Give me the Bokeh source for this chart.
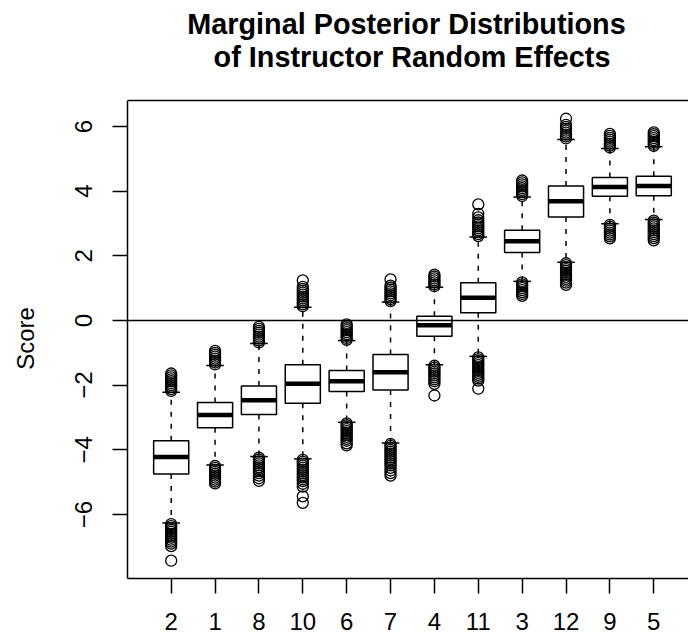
import numpy as np
from bokeh.plotting import figure
from bokeh.layouts import column
from bokeh.models import Range1d, FixedTicker, Span, Label
from bokeh.embed import file_html
from bokeh.resources import INLINE

# ---------------- data ----------------
categories = ["2", "1", "8", "10", "6", "7", "4", "11", "3", "12", "9", "5"]
lower_whisker = [-6.26, -4.47, -4.21, -4.28, -3.15, -3.79, -1.37, -1.11, 1.21, 1.80, 2.99, 3.12]
q1 = [-4.75, -3.32, -2.91, -2.56, -2.20, -2.15, -0.49, 0.24, 2.10, 3.20, 3.84, 3.86]
median = [-4.22, -2.92, -2.47, -1.96, -1.88, -1.60, -0.15, 0.70, 2.45, 3.69, 4.13, 4.16]
q3 = [-3.72, -2.54, -2.03, -1.37, -1.55, -1.05, 0.13, 1.17, 2.79, 4.16, 4.42, 4.46]
upper_whisker = [-2.22, -1.39, -0.71, 0.41, -0.62, 0.57, 1.03, 2.58, 3.82, 5.60, 5.32, 5.37]
outliers = [
    [-2.18, -2.12, -2.06, -2.00, -1.94, -1.88, -1.82, -1.76, -1.70, -1.64,
     -6.30, -6.36, -6.42, -6.48, -6.54, -6.60, -6.66, -6.72, -6.78, -6.84, -6.90, -6.98, -7.43],
    [-1.36, -1.30, -1.24, -1.18, -1.12, -1.06, -1.00, -0.94,
     -4.50, -4.56, -4.62, -4.68, -4.74, -4.80, -4.86, -4.92, -4.98, -5.04],
    [-0.68, -0.62, -0.56, -0.50, -0.44, -0.38, -0.32, -0.26, -0.20,
     -4.24, -4.30, -4.36, -4.42, -4.48, -4.54, -4.60, -4.66, -4.72, -4.80, -4.88, -4.96],
    [0.44, 0.50, 0.56, 0.62, 0.68, 0.74, 0.80, 0.86, 0.92, 0.98, 1.04, 1.24,
     -4.31, -4.37, -4.43, -4.49, -4.55, -4.61, -4.67, -4.73, -4.79, -4.85, -4.91, -4.97, -5.05, -5.14, -5.44, -5.64],
    [-0.60, -0.54, -0.48, -0.42, -0.36, -0.30, -0.24, -0.18, -0.12,
     -3.18, -3.24, -3.30, -3.36, -3.42, -3.48, -3.54, -3.60, -3.66, -3.72, -3.80, -3.86],
    [0.60, 0.66, 0.72, 0.78, 0.84, 0.90, 0.96, 1.02, 1.08, 1.27,
     -3.82, -3.88, -3.94, -4.00, -4.06, -4.12, -4.18, -4.24, -4.30, -4.36, -4.42, -4.48, -4.56, -4.64, -4.72, -4.80],
    [1.06, 1.12, 1.18, 1.24, 1.30, 1.36, 1.42,
     -1.40, -1.46, -1.52, -1.58, -1.64, -1.70, -1.76, -1.82, -1.88, -1.96, -2.32],
    [2.61, 2.67, 2.73, 2.79, 2.85, 2.91, 2.97, 3.03, 3.10, 3.19, 3.30, 3.59,
     -1.14, -1.20, -1.26, -1.32, -1.38, -1.44, -1.50, -1.56, -1.62, -1.68, -1.74, -1.80, -1.86, -2.11],
    [3.85, 3.91, 3.97, 4.03, 4.09, 4.15, 4.21, 4.27, 4.33,
     1.18, 1.12, 1.06, 1.00, 0.94, 0.88, 0.82, 0.76],
    [5.63, 5.69, 5.75, 5.81, 5.87, 5.93, 5.99, 6.05, 6.24,
     1.77, 1.71, 1.65, 1.59, 1.53, 1.47, 1.41, 1.35, 1.29, 1.23, 1.17, 1.10],
    [5.35, 5.41, 5.47, 5.53, 5.59, 5.65, 5.71, 5.77,
     2.96, 2.90, 2.84, 2.78, 2.72, 2.66, 2.60, 2.54],
    [5.40, 5.46, 5.52, 5.58, 5.64, 5.70, 5.76, 5.82,
     3.09, 3.03, 2.97, 2.91, 2.85, 2.79, 2.73, 2.67, 2.61, 2.55, 2.48],
]
y_ticks = [-6, -4, -2, 0, 2, 4, 6]
title_line1 = "Marginal Posterior Distributions"
title_line2 = "of Instructor Random Effects"
y_label = "Score"

# ---------------- layout / style ----------------
FONT = "Liberation Sans"
TITLE_H = 98
FRAME_LEFT = 127
PX_PER_Y = 32.33
X0, X1 = 0.004, 12.792
Y0, Y_TOP = -7.98, 6.804
Y1 = Y_TOP + 2 / PX_PER_Y
BOX_W = 0.8
CAP_W = 0.4
LW = 1.5

pos = np.arange(1, len(categories) + 1)

# ---- title strip (page-pixel coordinates; its frame lines up with the main frame) ----
t = figure(width=688, height=TITLE_H, output_backend="svg", toolbar_location=None,
           x_range=Range1d(FRAME_LEFT, 688), y_range=Range1d(0, TITLE_H),
           x_axis_location=None, y_axis_location=None, min_border=0)
t.outline_line_color = None
t.grid.visible = False
t.add_layout(Label(x=406, y=TITLE_H - 33.3 + 10, text=title_line1, text_align="center",
                   text_baseline="alphabetic", text_font=FONT, text_font_size="28.8px",
                   text_font_style="bold", text_color="black"))
t.add_layout(Label(x=411.5, y=TITLE_H - 66.7 + 10, text=title_line2, text_align="center",
                   text_baseline="alphabetic", text_font=FONT, text_font_size="28.8px",
                   text_font_style="bold", text_color="black"))

# ---- main plot ----
p = figure(width=688, height=636 - TITLE_H, output_backend="svg", toolbar_location=None,
           x_range=Range1d(X0, X1), y_range=Range1d(Y0, Y1),
           min_border_left=FRAME_LEFT, min_border_right=0, min_border_top=0, min_border_bottom=58)
p.outline_line_color = None
p.grid.visible = False
p.background_fill_color = "white"
p.border_fill_color = "white"

# whiskers (dashed)
p.segment(x0=pos, y0=q3, x1=pos, y1=upper_whisker, line_color="black", line_width=LW, line_dash="5 7")
p.segment(x0=pos, y0=q1, x1=pos, y1=lower_whisker, line_color="black", line_width=LW, line_dash="5 7")
# staples
p.segment(x0=pos - CAP_W / 2, y0=upper_whisker, x1=pos + CAP_W / 2, y1=upper_whisker, line_color="black", line_width=LW)
p.segment(x0=pos - CAP_W / 2, y0=lower_whisker, x1=pos + CAP_W / 2, y1=lower_whisker, line_color="black", line_width=LW)
# boxes
p.quad(left=pos - BOX_W / 2, right=pos + BOX_W / 2, bottom=q1, top=q3,
       fill_color="white", line_color="black", line_width=LW)
# medians
p.segment(x0=pos - BOX_W / 2, y0=median, x1=pos + BOX_W / 2, y1=median, line_color="black", line_width=4.5)
# outliers
ox, oy = [], []
for xi, vals in zip(pos, outliers):
    ox.extend([xi] * len(vals))
    oy.extend(vals)
p.scatter(ox, oy, marker="circle", size=11, fill_color=None, line_color="black", line_width=1.3)

# horizontal reference line at 0 and top line of the plotting box
p.add_layout(Span(location=0, dimension="width", line_color="black", line_width=LW))
p.add_layout(Span(location=Y_TOP, dimension="width", line_color="black", line_width=LW))

# y axis
yax = p.yaxis[0]
yax.bounds = (Y0, Y_TOP)
yax.ticker = FixedTicker(ticks=y_ticks)
yax.major_label_overrides = {t_: (str(t_) if t_ >= 0 else "\u2212" + str(-t_)) for t_ in y_ticks}
yax.major_label_orientation = "vertical"
yax.major_tick_out = 15
yax.major_tick_in = 0
yax.minor_tick_line_color = None
yax.major_label_text_font = FONT
yax.major_label_text_font_size = "24px"
yax.major_label_text_color = "black"
yax.major_label_standoff = 20
yax.axis_line_width = LW
yax.major_tick_line_width = LW
yax.axis_label = y_label
yax.axis_label_text_font = FONT
yax.axis_label_text_font_size = "24px"
yax.axis_label_text_font_style = "normal"
yax.axis_label_text_color = "black"
yax.axis_label_standoff = 34

# x axis
xax = p.xaxis[0]
xax.ticker = FixedTicker(ticks=list(pos))
xax.major_label_overrides = {int(v): c for v, c in zip(pos, categories)}
xax.major_label_text_font = FONT
xax.major_label_text_font_size = "24px"
xax.major_label_text_color = "black"
xax.major_label_standoff = 19
xax.major_tick_out = 15
xax.major_tick_in = 0
xax.minor_tick_line_color = None
xax.axis_line_width = LW
xax.major_tick_line_width = LW

layout = column(t, p, spacing=0)
open("out.html", "w").write(file_html(layout, INLINE))
